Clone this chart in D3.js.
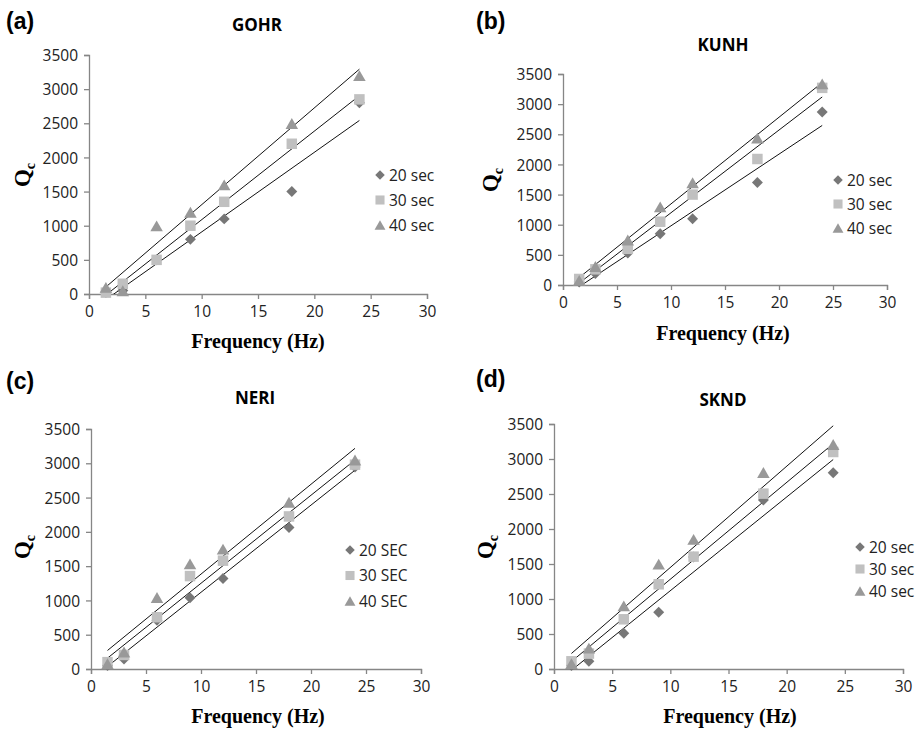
<!DOCTYPE html>
<html>
<head>
<meta charset="utf-8">
<script src="https://cdn.jsdelivr.net/npm/d3@7"></script>
<style>
body { margin: 0; background: #fff; }
</style>
</head>
<body>
<script>
// frequencies used in every test
var freqs = [1.5, 3, 6, 9, 12, 18, 24];
var xTicks = [0, 5, 10, 15, 20, 25, 30];
var yTicks = [0, 500, 1000, 1500, 2000, 2500, 3000, 3500];

// Qc values
var gohr20 = [20, 50, 500, 800, 1100, 1500, 2800];
var gohr30 = [20, 150, 500, 1000, 1350, 2200, 2850];
var gohr40 = [100, 50, 1000, 1200, 1600, 2500, 3200];

var kunh20 = [50, 190, 530, 850, 1100, 1700, 2870];
var kunh30 = [100, 260, 600, 1050, 1500, 2090, 3270];
var kunh40 = [80, 310, 750, 1300, 1700, 2440, 3340];

var neri20 = [50, 145, 710, 1040, 1320, 2065, 2945];
var neri30 = [100, 205, 755, 1355, 1580, 2225, 2980];
var neri40 = [80, 250, 1045, 1535, 1750, 2435, 3050];

var sknd20 = [50, 110, 510, 810, 1600, 2415, 2805];
var sknd30 = [110, 220, 710, 1210, 1605, 2505, 3100];
var sknd40 = [80, 300, 905, 1500, 1855, 2810, 3210];

var legendLower = ["20 sec", "30 sec", "40 sec"];
var legendUpper = ["20 SEC", "30 SEC", "40 SEC"];

var panels = [
  {letter: "(a)", name: "GOHR", series: [gohr20, gohr30, gohr40], legend: legendLower,
   box: {left: 89, right: 427, top: 55, bottom: 294},
   letterPos: [6, 29], titlePos: [257, 31], qPos: [22, 175], freqPos: [258, 348],
   legendPos: [380, 175, 25]},
  {letter: "(b)", name: "KUNH", series: [kunh20, kunh30, kunh40], legend: legendLower,
   box: {left: 563, right: 887, top: 74, bottom: 285},
   letterPos: [476, 29], titlePos: [723, 51], qPos: [490, 180], freqPos: [723, 340],
   legendPos: [838, 180, 24]},
  {letter: "(c)", name: "NERI", series: [neri20, neri30, neri40], legend: legendUpper,
   box: {left: 91, right: 421, top: 429, bottom: 669},
   letterPos: [6, 389], titlePos: [255, 404], qPos: [22, 547], freqPos: [258, 723],
   legendPos: [350, 550, 25.5]},
  {letter: "(d)", name: "SKND", series: [sknd20, sknd30, sknd40], legend: legendLower,
   box: {left: 554, right: 903, top: 424, bottom: 669},
   letterPos: [476, 387], titlePos: [723, 406], qPos: [485, 547], freqPos: [730, 723],
   legendPos: [860, 547, 22]}
];

var markerFill = ["#777777", "#c0c0c0", "#999999"];
var markerType = [d3.symbolSquare, d3.symbolSquare, d3.symbolTriangle];
var markerSize = [60, 110, 68];
var markerRotate = [45, 0, 0];
// triangle is drawn around its centroid, push it down to centre its box
var markerShift = [0, 0, 2];
var axisColor = "#868686";

var svg = d3.select("body").append("svg")
            .attr("width", 919)
            .attr("height", 729);

// least squares fit of y on x
var fitLine = function(xs, ys)
{
  var mx = d3.mean(xs), my = d3.mean(ys);
  var sxy = 0, sxx = 0;
  xs.forEach(function(x, i)
  {
    sxy += (x - mx) * (ys[i] - my);
    sxx += (x - mx) * (x - mx);
  });
  var slope = sxy / sxx;
  return {slope: slope, intercept: my - slope * mx};
}

var drawPanel = function(p, idx)
{
  var xScale = d3.scaleLinear().domain([0, 30]).range([p.box.left, p.box.right]);
  var yScale = d3.scaleLinear().domain([0, 3500]).range([p.box.bottom, p.box.top]);

  var g = svg.append("g").attr("class", "panel");

  g.append("text")
   .attr("x", p.letterPos[0]).attr("y", p.letterPos[1])
   .style("font-family", "'Liberation Sans', Arial, sans-serif")
   .style("font-weight", "bold").style("font-size", "23px")
   .text(p.letter);

  g.append("text")
   .attr("x", p.titlePos[0]).attr("y", p.titlePos[1])
   .attr("text-anchor", "middle")
   .style("font-family", "'Open Sans', sans-serif")
   .style("font-weight", "bold").style("font-size", "17px")
   .text(p.name);

  var yAxis = d3.axisLeft(yScale).tickValues(yTicks).tickSize(5).tickPadding(6)
                .tickFormat(d3.format("d"));
  var xAxis = d3.axisBottom(xScale).tickValues(xTicks).tickSize(5).tickPadding(4)
                .tickFormat(d3.format("d"));

  var ya = g.append("g")
            .attr("transform", "translate(" + p.box.left + ",0)")
            .call(yAxis);
  var xa = g.append("g")
            .attr("transform", "translate(0," + p.box.bottom + ")")
            .call(xAxis);

  [ya, xa].forEach(function(a)
  {
    a.select(".domain").attr("stroke", axisColor).attr("stroke-width", 1.3);
    a.selectAll(".tick line").attr("stroke", axisColor).attr("stroke-width", 1.3);
    a.selectAll("text")
     .style("font-family", "'Open Sans', sans-serif")
     .style("font-size", "15.5px")
     .attr("fill", "#222");
  });
  ya.selectAll(".tick text").attr("dy", "0.36em");
  xa.selectAll(".tick text").attr("dy", "0.9em");

  // axis titles
  g.append("text")
   .attr("x", p.freqPos[0]).attr("y", p.freqPos[1])
   .attr("text-anchor", "middle")
   .style("font-family", "'Liberation Serif', 'Times New Roman', serif")
   .style("font-weight", "bold").style("font-size", "20px")
   .text("Frequency (Hz)");

  var q = g.append("text")
           .attr("transform", "translate(" + p.qPos[0] + "," + p.qPos[1] + ") rotate(-90)")
           .attr("text-anchor", "middle")
           .attr("dy", "0.35em")
           .style("font-family", "'Liberation Serif', 'Times New Roman', serif")
           .style("font-weight", "bold").style("font-size", "23px");
  q.append("tspan").text("Q");
  q.append("tspan").attr("dy", "5").style("font-size", "14px").text("c");

  // trend lines, clipped to the plot area
  var clipId = "clip" + idx;
  g.append("clipPath").attr("id", clipId)
   .append("rect")
   .attr("x", p.box.left).attr("y", p.box.top)
   .attr("width", p.box.right - p.box.left)
   .attr("height", p.box.bottom - p.box.top);

  var fits = p.series.map(function(s) { return fitLine(freqs, s); });
  var xMin = d3.min(freqs), xMax = d3.max(freqs);

  g.append("g").attr("clip-path", "url(#" + clipId + ")")
   .selectAll("line")
   .data(fits)
   .enter().append("line")
   .attr("x1", xScale(xMin))
   .attr("x2", xScale(xMax))
   .attr("y1", function(f) { return yScale(f.intercept + f.slope * xMin); })
   .attr("y2", function(f) { return yScale(f.intercept + f.slope * xMax); })
   .attr("stroke", "#111")
   .attr("stroke-width", 1);

  // markers
  p.series.forEach(function(s, si)
  {
    var sym = d3.symbol().type(markerType[si]).size(markerSize[si]);
    g.append("g").selectAll("path")
     .data(s)
     .enter().append("path")
     .attr("d", sym)
     .attr("transform", function(d, i)
     {
       return "translate(" + xScale(freqs[i]) + "," + (yScale(d) + markerShift[si]) + ") rotate(" + markerRotate[si] + ")";
     })
     .attr("fill", markerFill[si]);
  });

  // legend
  var lg = g.append("g")
            .attr("transform", "translate(" + p.legendPos[0] + "," + p.legendPos[1] + ")");
  p.legend.forEach(function(label, li)
  {
    var row = lg.append("g").attr("transform", "translate(0," + (li * p.legendPos[2]) + ")");
    row.append("path")
       .attr("d", d3.symbol().type(markerType[li]).size(markerSize[li] * 0.75))
       .attr("transform", "translate(0," + (markerShift[li] * 0.8) + ") rotate(" + markerRotate[li] + ")")
       .attr("fill", markerFill[li]);
    row.append("text")
       .attr("x", 9).attr("dy", "0.36em")
       .style("font-family", "'Open Sans', sans-serif")
       .style("font-size", "15.5px")
       .attr("fill", "#222")
       .text(label);
  });
}

panels.forEach(function(p, i) { drawPanel(p, i); });
</script>
</body>
</html>
